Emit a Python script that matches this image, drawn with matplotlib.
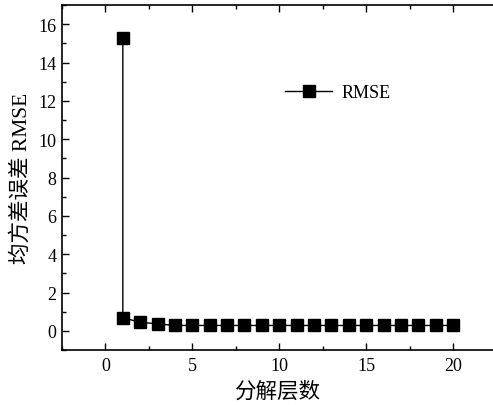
import matplotlib
matplotlib.use("Agg")
import matplotlib.pyplot as plt
from matplotlib.ticker import MultipleLocator

levels = [1, 1, 2, 3, 4, 5, 6, 7, 8, 9, 10, 11, 12, 13, 14, 15, 16, 17, 18, 19, 20]
rmse = [15.3, 0.68, 0.45, 0.36, 0.28, 0.28, 0.28, 0.28, 0.28, 0.28, 0.28,
        0.28, 0.28, 0.28, 0.28, 0.28, 0.28, 0.28, 0.28, 0.28, 0.28]
xlabel = "分解层数"
ylabel = "均方差误差 RMSE"
series_name = "RMSE"

fam = ["Liberation Serif", "Noto Sans CJK SC"]
plt.rcParams["font.family"] = fam

fig = plt.figure(figsize=(4.93, 4.06), dpi=100)
ax = fig.add_axes([62/493, 1-351/406, 1-62/493, (351-6)/406])

ax.plot(levels, rmse, color="black", lw=1.0, marker="s", ms=8.8, label=series_name)

ax.set_xlim(-2.5, 22.3)
ax.set_ylim(-1, 17)
ax.xaxis.set_major_locator(MultipleLocator(5))
ax.xaxis.set_minor_locator(MultipleLocator(2.5))
ax.yaxis.set_major_locator(MultipleLocator(2))
ax.yaxis.set_minor_locator(MultipleLocator(1))
ax.tick_params(which="both", direction="in", top=True, right=False, labelsize=13, width=1)
ax.tick_params(which="major", length=5, pad=5)
ax.tick_params(which="minor", length=3)
ax.tick_params(axis="y", pad=4)
for s in ax.spines.values():
    s.set_linewidth(1.2)
ax.spines["right"].set_linewidth(0.6)

ax.set_xlabel(xlabel, fontsize=15.5, family=fam, labelpad=5)
ax.set_ylabel(ylabel, fontsize=15.5, family=fam, labelpad=5)

ax.legend(loc="center left", bbox_to_anchor=(0.48, 0.745), frameon=False,
          fontsize=13, handlelength=2.6, handletextpad=0.5)

fig.savefig("out.png", dpi=100)
